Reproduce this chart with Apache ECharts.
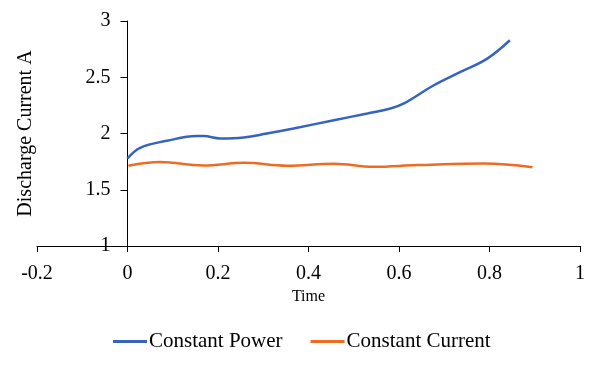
<!DOCTYPE html>
<html><head><meta charset="utf-8">
<script src="https://cdn.jsdelivr.net/npm/echarts@6/dist/echarts.min.js"></script>
<style>html,body{margin:0;padding:0;background:#fff}#c{width:600px;height:365px}</style>
</head><body><div id="c"></div>
<script>
const xTicks = [-0.2, 0, 0.2, 0.4, 0.6, 0.8, 1];
const yTicks = [1, 1.5, 2, 2.5, 3];
const powerT = [0, 0.028, 0.087, 0.153, 0.168, 0.205, 0.257, 0.308, 0.367, 0.456, 0.530, 0.581, 0.611, 0.677, 0.736, 0.795, 0.845];
const powerV = [1.778, 1.873, 1.935, 1.977, 1.977, 1.956, 1.965, 2.0, 2.045, 2.118, 2.178, 2.222, 2.267, 2.429, 2.547, 2.666, 2.829];
const currentT = [0.002, 0.072, 0.168, 0.257, 0.353, 0.456, 0.544, 0.640, 0.788, 0.895];
const currentV = [1.713, 1.746, 1.716, 1.739, 1.713, 1.731, 1.704, 1.719, 1.734, 1.701];
const names = ['Constant Power', 'Constant Current'];

const font = 'Liberation Serif, Times New Roman, serif';
const W = 600, gLeft = 37, gRight = 20;
const xMin = xTicks[0], xMax = xTicks[xTicks.length-1];
// second grid starts where x = 0 lies in the first grid (y-axis crosses at 0)
const zeroLeft = gLeft + (0 - xMin) / (xMax - xMin) * (W - gLeft - gRight);

const chart = echarts.init(document.getElementById('c'));
chart.setOption({
  animation: false,
  textStyle: {fontFamily: font},
  grid: [
    {left: gLeft, right: gRight, top: 21, bottom: 119, containLabel: false, outerBoundsMode: 'none'},
    {left: zeroLeft, right: gRight, top: 21, bottom: 119, containLabel: false, outerBoundsMode: 'none'}
  ],
  legend: {
    top: 331, left: 113, padding: 0, itemWidth: 34, itemHeight: 3, itemGap: 28,
    icon: 'rect',
    textStyle: {fontFamily: font, fontSize: 21, color: '#000', padding: [0,0,0,-3]},
    data: names
  },
  xAxis: [{
    gridIndex: 0, type: 'value', min: xMin, max: xMax, interval: 0.2,
    name: 'Time', nameLocation: 'middle', nameGap: 43,
    nameTextStyle: {fontFamily: font, fontSize: 16, color: '#000'},
    axisLine: {onZero: false, lineStyle: {color: '#000', width: 1}},
    axisTick: {show: true, length: 6, lineStyle: {color: '#000'}},
    axisLabel: {fontFamily: font, fontSize: 20, color: '#000', margin: 18,
      formatter: v => { const r = Math.round(v*10)/10; return String(r); }},
    splitLine: {show: false}
  }, {
    gridIndex: 1, type: 'value', min: 0, max: xMax, show: false
  }],
  yAxis: [{
    gridIndex: 0, type: 'value', min: yTicks[0], max: yTicks[yTicks.length-1], interval: 0.5,
    show: false
  }, {
    gridIndex: 1, type: 'value', min: yTicks[0], max: yTicks[yTicks.length-1], interval: 0.5,
    name: 'Discharge Current A', nameLocation: 'middle', nameGap: 92,
    nameTextStyle: {fontFamily: font, fontSize: 20, color: '#000'},
    axisLine: {show: true, onZero: false, lineStyle: {color: '#000', width: 1}},
    axisTick: {show: true, length: 7, lineStyle: {color: '#000'}},
    axisLabel: {fontFamily: font, fontSize: 20, color: '#000', margin: 17},
    splitLine: {show: false}
  }],
  series: [
    {name: names[0], type: 'line', xAxisIndex: 0, yAxisIndex: 0, smooth: 0.4, showSymbol: false, symbol: 'none',
     lineStyle: {color: '#3563C0', width: 2.5}, itemStyle: {color: '#3563C0'},
     data: powerT.map((t,i) => [t, powerV[i]])},
    {name: names[1], type: 'line', xAxisIndex: 0, yAxisIndex: 0, smooth: 0.4, showSymbol: false, symbol: 'none',
     lineStyle: {color: '#EE6C22', width: 2.5}, itemStyle: {color: '#EE6C22'},
     data: currentT.map((t,i) => [t, currentV[i]])}
  ]
});
</script></body></html>
